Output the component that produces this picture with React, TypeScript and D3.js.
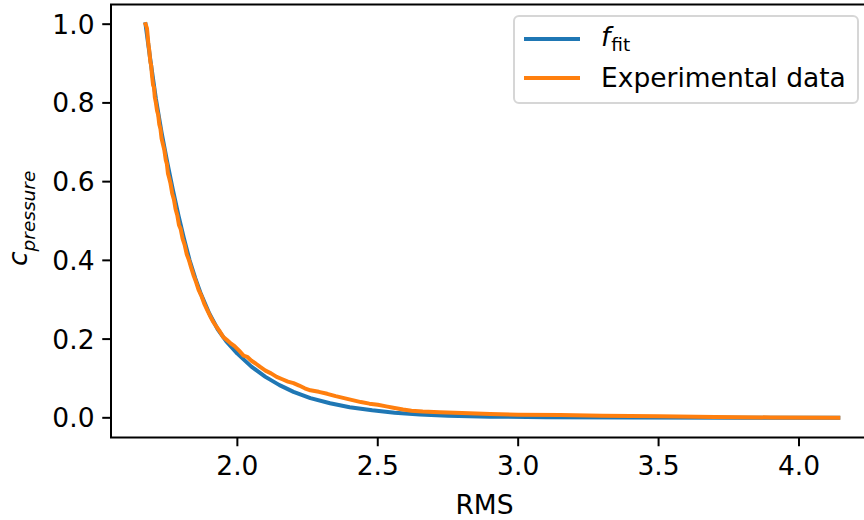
import React from 'react';
import * as d3 from 'd3';

// Fitted curve f_fit (RMS -> c_pressure)
const fitRms = [1.673, 1.69, 1.71, 1.73, 1.75, 1.77, 1.79, 1.81, 1.83, 1.85, 1.87, 1.9, 1.93, 1.96, 2.0, 2.05, 2.1, 2.15, 2.2, 2.26, 2.33, 2.4, 2.48, 2.56, 2.65, 2.75, 2.9, 3.1, 3.4, 3.8, 4.14];
const fitValues = [1.0, 0.91, 0.81, 0.725, 0.65, 0.58, 0.515, 0.455, 0.4, 0.355, 0.315, 0.265, 0.225, 0.195, 0.163, 0.13, 0.104, 0.083, 0.066, 0.05, 0.037, 0.027, 0.019, 0.013, 0.0085, 0.0055, 0.003, 0.0013, 0.0005, 0.0002, 0.0001];

// Measured pressure coefficient
const expRms = [1.673, 1.678, 1.68, 1.683, 1.686, 1.69, 1.693, 1.696, 1.7, 1.703, 1.706, 1.71, 1.714, 1.718, 1.722, 1.726, 1.73, 1.735, 1.74, 1.745, 1.749, 1.753, 1.757, 1.762, 1.768, 1.774, 1.78, 1.786, 1.792, 1.798, 1.805, 1.812, 1.82, 1.828, 1.836, 1.845, 1.853, 1.862, 1.872, 1.882, 1.892, 1.902, 1.913, 1.925, 1.937, 1.95, 1.962, 1.975, 1.99, 2.0, 2.01, 2.022, 2.035, 2.05, 2.065, 2.08, 2.1, 2.12, 2.14, 2.16, 2.18, 2.2, 2.22, 2.24, 2.26, 2.29, 2.32, 2.35, 2.38, 2.41, 2.44, 2.47, 2.5, 2.53, 2.56, 2.59, 2.62, 2.66, 2.72, 2.8, 2.9, 3.0, 3.15, 3.3, 3.5, 3.7, 3.9, 4.14];
const expValues = [1.0, 0.99, 0.975, 0.95, 0.935, 0.905, 0.895, 0.87, 0.845, 0.84, 0.815, 0.8, 0.78, 0.77, 0.745, 0.735, 0.71, 0.695, 0.68, 0.655, 0.645, 0.62, 0.61, 0.595, 0.57, 0.555, 0.53, 0.515, 0.49, 0.48, 0.455, 0.44, 0.415, 0.4, 0.38, 0.36, 0.345, 0.325, 0.31, 0.29, 0.275, 0.26, 0.245, 0.232, 0.22, 0.205, 0.198, 0.19, 0.182, 0.175, 0.168, 0.158, 0.155, 0.145, 0.138, 0.13, 0.12, 0.113, 0.104, 0.098, 0.092, 0.088, 0.082, 0.075, 0.07, 0.066, 0.061, 0.055, 0.05, 0.045, 0.04, 0.036, 0.033, 0.029, 0.025, 0.021, 0.018, 0.016, 0.014, 0.012, 0.01, 0.008, 0.007, 0.005, 0.004, 0.002, 0.001, 0.0];

const xTicks = [2.0, 2.5, 3.0, 3.5, 4.0];
const yTicks = [0.0, 0.2, 0.4, 0.6, 0.8, 1.0];
const seriesColors = ['#1f77b4', '#ff7f0e'];

const W = 864;
const H = 520;
const FONT = "'DejaVu Sans', sans-serif";
const FS = 26.5;
const SUB = 18.5;

export default function App() {
  const left = 111;
  const right = 872;
  const top = 4.5;
  const bottom = 437.5;

  const x = d3.scaleLinear().domain([1.55, 4.26]).range([left, right]);
  const y = d3.scaleLinear().domain([-0.05, 1.05]).range([bottom, top]);

  const line = d3
    .line<[number, number]>()
    .x((d) => x(d[0]))
    .y((d) => y(d[1]));

  const fitPts = fitRms.map((r, i) => [r, fitValues[i]] as [number, number]);
  const expPts = expRms.map((r, i) => [r, expValues[i]] as [number, number]);

  const tickLen = 8.75;
  const pad = 8.75;

  return (
    <svg
      width={W}
      height={H}
      style={{ position: 'absolute', left: 0, top: 0, background: '#fff' }}
      fontFamily={FONT}
    >
      <defs>
        <clipPath id="plotArea">
          <rect x={left} y={top} width={right - left} height={bottom - top} />
        </clipPath>
      </defs>
      <rect x={0} y={0} width={W} height={H} fill="#fff" />

      <g clipPath="url(#plotArea)" fill="none" strokeWidth={4} strokeLinejoin="round" strokeLinecap="square">
        <path d={line(fitPts) || ''} stroke={seriesColors[0]} />
        <path d={line(expPts) || ''} stroke={seriesColors[1]} />
      </g>

      {/* spines */}
      <g stroke="#000" strokeWidth={2} fill="none">
        <rect x={left} y={top} width={right - left} height={bottom - top} />
      </g>

      {/* x axis ticks */}
      <g>
        {xTicks.map((t) => (
          <g key={t}>
            <line x1={x(t)} x2={x(t)} y1={bottom} y2={bottom + tickLen} stroke="#000" strokeWidth={2} />
            <text
              x={x(t)}
              y={bottom + tickLen + pad + 19.5}
              textAnchor="middle"
              fontSize={FS}
              fill="#000"
            >
              {t.toFixed(1)}
            </text>
          </g>
        ))}
      </g>

      {/* y axis ticks */}
      <g>
        {yTicks.map((t) => (
          <g key={t}>
            <line x1={left - tickLen} x2={left} y1={y(t)} y2={y(t)} stroke="#000" strokeWidth={2} />
            <text
              x={left - tickLen - pad + 1}
              y={y(t) + 9.5}
              textAnchor="end"
              fontSize={FS}
              fill="#000"
            >
              {t.toFixed(1)}
            </text>
          </g>
        ))}
      </g>

      {/* axis labels */}
      <text x={(left + 864) / 2 - 3} y={514} textAnchor="middle" fontSize={FS} fill="#000">
        RMS
      </text>
      <g transform={`translate(27, ${(top + bottom) / 2 + 45}) rotate(-90)`}>
        <text x={0} y={0} fontSize={FS} fill="#000">
          <tspan fontStyle="italic">c</tspan>
          <tspan fontStyle="italic" fontSize={SUB} dy={8}>pressure</tspan>
        </text>
      </g>

      {/* legend */}
      <g>
        <rect x={514} y={16} width={344} height={87} rx={5} ry={5} fill="#fff" fillOpacity={0.8} stroke="#d6d6d6" strokeWidth={2} />
        <line x1={524} x2={580} y1={39} y2={39} stroke={seriesColors[0]} strokeWidth={4} />
        <line x1={524} x2={580} y1={78} y2={78} stroke={seriesColors[1]} strokeWidth={4} />
        <text x={601} y={46} fontSize={FS} fill="#000">
          <tspan fontStyle="italic">f</tspan>
          <tspan fontSize={SUB} dy={5} dx={1}>fit</tspan>
        </text>
        <text x={601} y={87} fontSize={FS} fill="#000">
          Experimental data
        </text>
      </g>
    </svg>
  );
}
